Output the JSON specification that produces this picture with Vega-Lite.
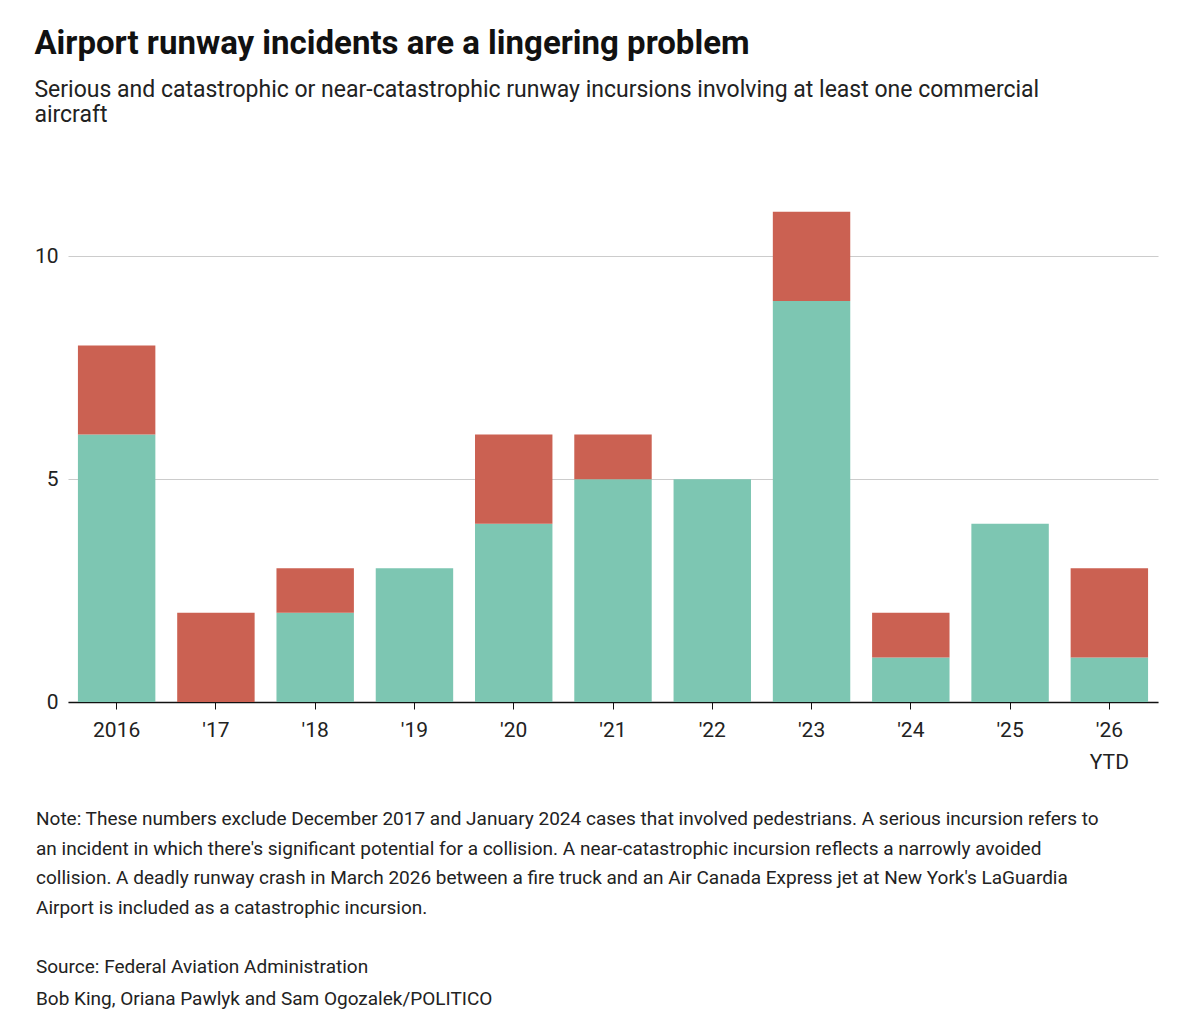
{
"$schema":"https://vega.github.io/schema/vega-lite/v6.json",
"padding":{"left":34,"top":28,"right":40,"bottom":10},
"background":"white",
"config":{"font":"Roboto","view":{"stroke":null},"concat":{"spacing":38}},
"title":{"text":"Airport runway incidents are a lingering problem","subtitle":["Serious and catastrophic or near-catastrophic runway incursions involving at least one commercial","aircraft"],"anchor":"start","font":"Roboto","fontSize":33,"fontWeight":"bold","color":"#111","subtitleFont":"Roboto","subtitleFontSize":23,"subtitleColor":"#222","subtitlePadding":18,"offset":58},
"vconcat":[
{"width":1090,"height":517,
"data":{"values":[
{"year":"2016","type":"Serious","n":6},{"year":"2016","type":"Catastrophic or near-catastrophic","n":2},
{"year":"'17","type":"Serious","n":0},{"year":"'17","type":"Catastrophic or near-catastrophic","n":2},
{"year":"'18","type":"Serious","n":2},{"year":"'18","type":"Catastrophic or near-catastrophic","n":1},
{"year":"'19","type":"Serious","n":3},{"year":"'19","type":"Catastrophic or near-catastrophic","n":0},
{"year":"'20","type":"Serious","n":4},{"year":"'20","type":"Catastrophic or near-catastrophic","n":2},
{"year":"'21","type":"Serious","n":5},{"year":"'21","type":"Catastrophic or near-catastrophic","n":1},
{"year":"'22","type":"Serious","n":5},{"year":"'22","type":"Catastrophic or near-catastrophic","n":0},
{"year":"'23","type":"Serious","n":9},{"year":"'23","type":"Catastrophic or near-catastrophic","n":2},
{"year":"'24","type":"Serious","n":1},{"year":"'24","type":"Catastrophic or near-catastrophic","n":1},
{"year":"'25","type":"Serious","n":4},{"year":"'25","type":"Catastrophic or near-catastrophic","n":0},
{"year":"'26","type":"Serious","n":1},{"year":"'26","type":"Catastrophic or near-catastrophic","n":2}
]},
"mark":{"type":"bar"},
"encoding":{
"x":{"field":"year","type":"nominal","sort":null,"scale":{"paddingInner":0.22,"paddingOuter":0.1},"axis":{"title":null,"labelAngle":0,"labelFontSize":21,"labelColor":"#222","labelPadding":10,"domainColor":"#111","domainWidth":1.5,"tickColor":"#111","tickSize":7,"labelExpr":"datum.label == \"'26\" ? [\"'26\", 'YTD'] : datum.label","labelLineHeight":32}},
"y":{"field":"n","type":"quantitative","stack":"zero","scale":{"domain":[0,11.6],"nice":false},"axis":{"title":null,"values":[0,5,10],"domain":false,"ticks":false,"labelFontSize":21,"labelColor":"#222","labelPadding":10,"gridColor":"#ccc","gridWidth":1.2}},
"color":{"field":"type","type":"nominal","scale":{"domain":["Serious","Catastrophic or near-catastrophic"],"range":["#7dc6b2","#cb6152"]},"legend":null},
"order":{"field":"type","sort":"descending"}
}},
{"width":1090,"height":180,
"data":{"values":[
{"i":1,"t":"Note: These numbers exclude December 2017 and January 2024 cases that involved pedestrians. A serious incursion refers to"},
{"i":2,"t":"an incident in which there's significant potential for a collision. A near-catastrophic incursion reflects a narrowly avoided"},
{"i":3,"t":"collision. A deadly runway crash in March 2026 between a fire truck and an Air Canada Express jet at New York's LaGuardia"},
{"i":4,"t":"Airport is included as a catastrophic incursion."},
{"i":6,"t":"Source: Federal Aviation Administration"},
{"i":7.1,"t":"Bob King, Oriana Pawlyk and Sam Ogozalek/POLITICO"}
]},
"mark":{"type":"text","align":"left","baseline":"top","fontSize":19,"color":"#222"},
"encoding":{
"x":{"value":-32},
"y":{"field":"i","type":"quantitative","scale":{"domain":[1,7.1],"reverse":true},"axis":null},
"text":{"field":"t"}
}}
]}
